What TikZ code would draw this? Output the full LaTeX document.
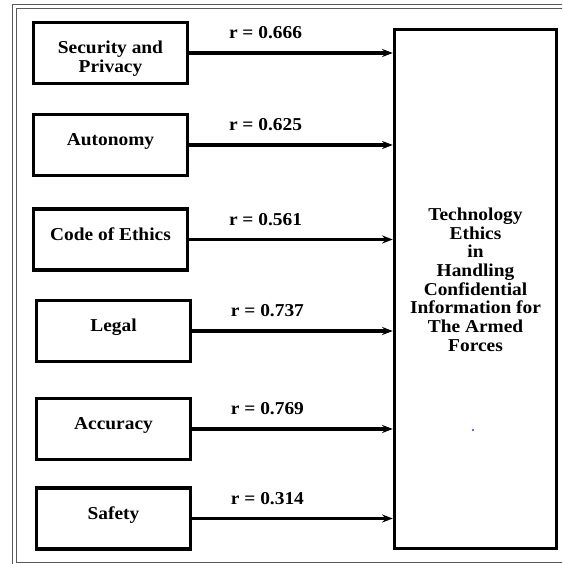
\documentclass[tikz,border=0pt]{standalone}
\usepackage{fontspec}
\setmainfont{Liberation Serif}[FakeStretch=1.07]
\usetikzlibrary{arrows.meta}
\usetikzlibrary{positioning}

\begin{document}
\begin{tikzpicture}[x=0.75pt,y=-0.75pt,
  factor/.style={draw,line width=2.6pt,minimum width=115.5pt,minimum height=45.75pt,inner sep=0pt},
  ftext/.style={anchor=north,align=center,inner sep=0pt,font=\fontsize{13.6}{13.8}\selectfont\bfseries},
  rlabel/.style={above=6pt,pos=0.375,font=\fontsize{13.6}{14}\selectfont\bfseries},
  link/.style={line width=2.3pt,-{Stealth[length=8pt,width=6pt]}},
  frame/.style={draw=black!65,line width=0.8pt}]
        \useasboundingbox (0,0) rectangle (562,564);
        \clip (0,0) rectangle (562,564);
        \fill[white] (0,0) rectangle (562,564);
        \draw[frame] (12.5,4.5) rectangle (580,580);
        \draw[frame] (16.5,8.5) rectangle (575,562.5);
        \node[factor,minimum width=121.5pt,minimum height=389.25pt] (tech) at (475.5,289) {};
        \node[factor] (sec) at (110.5,53) {};
        \node[factor] (auto) at (110.5,145) {};
        \node[factor] (code) at (110.5,239.5) {};
        \node[factor] (legal) at (113.5,331) {};
        \node[factor] (acc) at (113.5,429) {};
        \node[factor] (safe) at (113.5,518.5) {};
        \node[ftext] (secT) at ([yshift=-15pt]sec.north) {Security and\\Privacy};
        \node[ftext] (autoT) at ([yshift=-15.4pt]auto.north) {Autonomy};
        \node[ftext] (codeT) at ([yshift=-15pt]code.north) {Code of Ethics};
        \node[ftext] (legalT) at ([yshift=-15pt]legal.north) {Legal};
        \node[ftext] (accT) at ([yshift=-15.4pt]acc.north) {Accuracy};
        \node[ftext] (safeT) at ([yshift=-15pt]safe.north) {Safety};
        \node[ftext,font=\fontsize{13.6}{14}\selectfont\bfseries] (techT) at (475.5,207.5)
          {Technology\\Ethics\\in\\Handling\\Confidential\\Information for\\The Armed\\Forces};
        \draw[link] (sec.east) -- (sec.east -| tech.west) node[rlabel] (r1) {r = 0.666};
        \draw[link] (auto.east) -- (auto.east -| tech.west) node[rlabel] (r2) {r = 0.625};
        \draw[link] (code.east) -- (code.east -| tech.west) node[rlabel] (r3) {r = 0.561};
        \draw[link] (legal.east) -- (legal.east -| tech.west) node[rlabel] (r4) {r = 0.737};
        \draw[link] (acc.east) -- (acc.east -| tech.west) node[rlabel] (r5) {r = 0.769};
        \draw[link] (safe.east) -- (safe.east -| tech.west) node[rlabel] (r6) {r = 0.314};
        \fill[blue!80] (473,430) circle (0.9pt);
\end{tikzpicture}
\end{document}
